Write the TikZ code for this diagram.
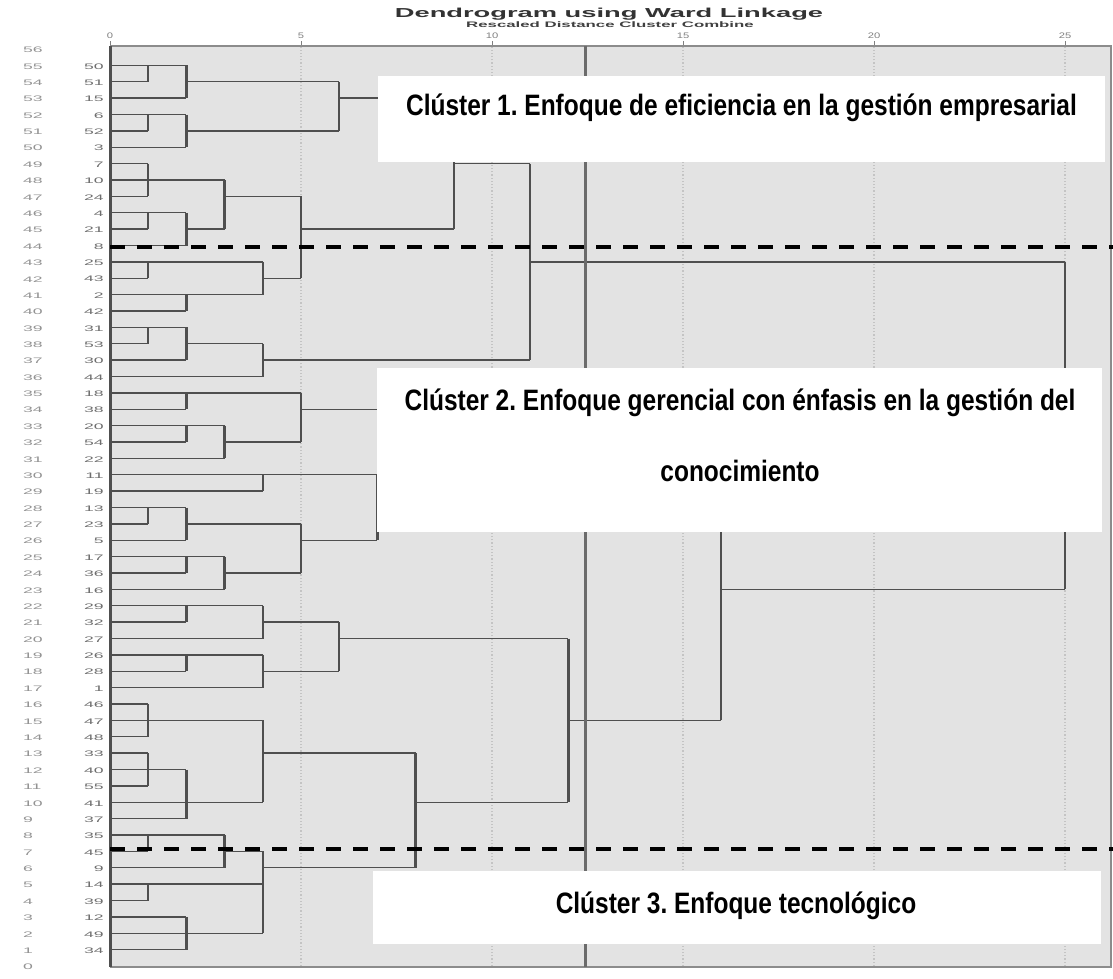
\documentclass[tikz,border=0pt]{standalone}
\usepackage{fontspec}
\setmainfont{Liberation Sans}
\newfontfamily\spssnum[FakeStretch=2.2]{Liberation Sans}
\newfontfamily\spsstit[FakeStretch=2.1]{Liberation Sans}
\newfontfamily\spssax[FakeStretch=1.4]{Liberation Sans}
\newfontfamily\angosta[FakeStretch=0.83]{Liberation Sans}
\definecolor{fondo}{HTML}{E3E3E3}
\definecolor{rama}{HTML}{4F4F4F}
\definecolor{rejilla}{HTML}{C4C4C4}
\definecolor{etq}{HTML}{6E6E6E}
\frenchspacing
% fila sup, dist sup, fila inf, dist inf, dist de union
\newcommand{\juntar}[5]{%
  \draw[hline] (#2,#1) -- (#5,#1) (#4,#3) -- (#5,#3);
  \draw[vline] (#5,#1) -- (#5,#3);}

\begin{document}
\begin{tikzpicture}[x=1pt,y=-1pt,
  hline/.style={rama,line width=1.3pt},
  vline/.style={rama,line width=2.4pt},
  corte/.style={black,line width=3.5pt,dash pattern=on 15pt off 12pt},
  caja/.style={fill=white},
  cluster/.style={font=\angosta\fontsize{29.5}{31}\selectfont\bfseries,inner sep=0pt,anchor=base},
  fila/.style={font=\spssnum\fontsize{8}{9}\selectfont,text=gray!85,inner sep=0pt},
  caso/.style={font=\spssnum\fontsize{8}{9}\selectfont,text=etq,inner sep=0pt}]
\useasboundingbox (0,0) rectangle (1113,978);
% fondo del grafico
\fill[fondo] (110,46) rectangle (1111,967);
\node[font=\spsstit\fontsize{13}{14}\selectfont\bfseries,text=black!80,anchor=base] (titulo) at (609,17) {Dendrogram using Ward Linkage};
\node[font=\spsstit\fontsize{8}{9}\selectfont\bfseries,text=black!75,anchor=base] (subtitulo) at (610,27) {Rescaled Distance Cluster Combine};
\begin{scope}[shift={(110,966)},x=38.2pt,y=16.375pt]
\foreach \d in {5,10,...,25} \draw[rejilla,line width=1.2pt,dotted] (\d,0) -- (\d,56.18);
\foreach \d in {0,5,...,25} {
  \draw[gray,line width=1pt] (\d,56.18) -- (\d,56.5);
  \node[font=\spssax\fontsize{8}{9}\selectfont,text=gray,anchor=base,inner sep=0pt] (eje\d) at (\d,56.67) {\d};}
\foreach \i in {0,...,56} \node[fila,anchor=west] (f\i) at (-2.28,\i-0.06) {\i};
\foreach \c [count=\i] in {34,49,12,39,14,9,45,35,37,41,55,40,33,48,47,46,1,28,26,27,32,29,16,36,17,5,23,13,19,11,22,54,20,38,18,44,30,53,31,42,2,43,25,8,21,4,24,10,7,3,52,6,15,51,50}
  \node[caso,anchor=east] (h\i) at (-0.16,\i-0.06) {\c};
% grupo superior
\juntar{55}{0}{54}{0}{1} \juntar{55}{1}{53}{0}{2}
\juntar{52}{0}{51}{0}{1} \juntar{52}{1}{50}{0}{2}
\juntar{54}{2}{51}{2}{6}
\juntar{49}{0}{47}{0}{1}
\juntar{46}{0}{45}{0}{1} \juntar{46}{1}{44}{0}{2}
\juntar{48}{0}{45}{2}{3}
\juntar{43}{0}{42}{0}{1} \juntar{41}{0}{40}{0}{2}
\juntar{43}{1}{41}{2}{4}
\juntar{47}{3}{42}{4}{5}
\juntar{53}{6}{45}{5}{9}
\juntar{39}{0}{38}{0}{1} \juntar{39}{1}{37}{0}{2}
\juntar{38}{2}{36}{0}{4}
\juntar{49}{9}{37}{4}{11}
% grupo medio
\juntar{35}{0}{34}{0}{2}
\juntar{33}{0}{32}{0}{2} \juntar{33}{2}{31}{0}{3}
\juntar{35}{2}{32}{3}{5}
\juntar{30}{0}{29}{0}{4}
\juntar{28}{0}{27}{0}{1} \juntar{28}{1}{26}{0}{2}
\juntar{25}{0}{24}{0}{2} \juntar{25}{2}{23}{0}{3}
\juntar{27}{2}{24}{3}{5}
\juntar{30}{4}{26}{5}{7}
\juntar{34}{5}{28}{7}{10}
% grupo inferior
\juntar{22}{0}{21}{0}{2} \juntar{22}{2}{20}{0}{4}
\juntar{19}{0}{18}{0}{2} \juntar{19}{2}{17}{0}{4}
\juntar{21}{4}{18}{4}{6}
\juntar{16}{0}{14}{0}{1}
\juntar{13}{0}{11}{0}{1} \juntar{12}{0}{9}{0}{2}
\juntar{15}{0}{10}{0}{4}
\juntar{8}{0}{7}{0}{1} \juntar{8}{1}{6}{0}{3}
\juntar{5}{0}{4}{0}{1}
\juntar{3}{0}{1}{0}{2}
\juntar{7}{3}{2}{0}{4} \draw[hline] (1,5) -- (4,5);
\juntar{13}{4}{6}{4}{8}
\juntar{20}{6}{10}{8}{12}
\juntar{31}{10}{15}{12}{16}
\juntar{43}{11}{23}{16}{25}
\end{scope}
% marco
\draw[gray!90,line width=1.5pt] (110,46) -- (1111,46) -- (1111,967) -- (110,967);
\draw[rama,line width=3pt] (110,46) -- (110,967);
% linea de corte
\draw[black!58,line width=3pt] (585,46) -- (585,967);
\draw[corte] (110,247) -- (1113,247);
\draw[corte] (110,849) -- (1113,849);
% cajas de los clusters
\fill[caja] (378,76) rectangle (1105,162);
\fill[caja] (377,368) rectangle (1102,532);
\fill[caja] (373,871) rectangle (1101,944);
\node[cluster] (c1) at (741.5,115) {Clúster 1. Enfoque de eficiencia en la gestión empresarial};
\node[cluster] (c2) at (740,410) {Clúster 2. Enfoque gerencial con énfasis en la gestión del};
\node[cluster] (c2b) at (740,481) {conocimiento};
\node[cluster] (c3) at (736,913) {Clúster 3. Enfoque tecnológico};
\end{tikzpicture}
\end{document}
